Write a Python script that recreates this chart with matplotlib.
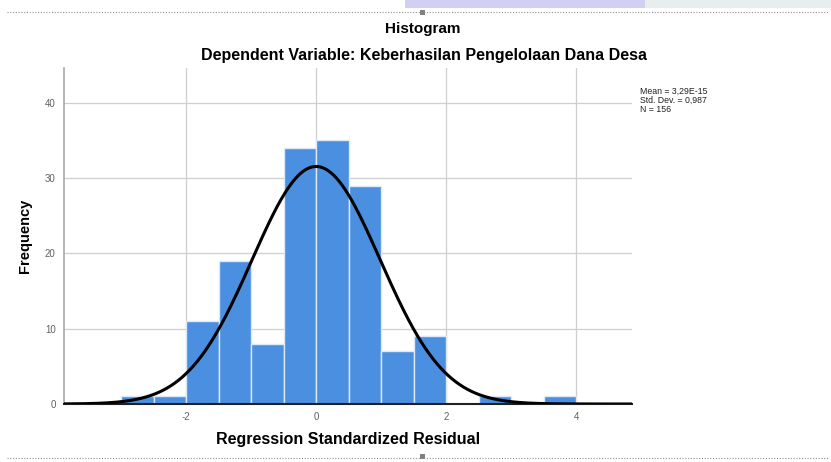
import numpy as np
import matplotlib
matplotlib.use("Agg")
import matplotlib.pyplot as plt
from matplotlib.lines import Line2D
from matplotlib.patches import Rectangle

# Data
bin_edges = [-3.0, -2.5, -2.0, -1.5, -1.0, -0.5, 0.0, 0.5, 1.0, 1.5, 2.0, 2.5, 3.0, 3.5, 4.0]
counts = [1, 1, 11, 19, 8, 34, 35, 29, 7, 9, 0, 1, 0, 1]
mean_val = 3.29e-15
std_val = 0.987
n_val = 156
x_ticks = [-2, 0, 2, 4]
y_ticks = [0, 10, 20, 30, 40]
stats_text = ["Mean = 3,29E-15", "Std. Dev. = 0,987", "N = 156"]

plt.rcParams['font.family'] = ['Liberation Sans', 'DejaVu Sans']
plt.rcParams['axes.unicode_minus'] = False

W, H = 831, 462
fig = plt.figure(figsize=(W / 100, H / 100), dpi=100)
ax = fig.add_axes([0.077, 0.1255, 0.6835, 0.7273])

edges = np.array(bin_edges)
widths = np.diff(edges)
ax.bar(edges[:-1], counts, width=widths, align='edge', color='#4a8fe0',
       edgecolor='#dbe9f8', linewidth=1.0, zorder=2)

xs = np.linspace(-3.9, 4.9, 600)
bw = widths[0]
pdf = n_val * bw / (std_val * np.sqrt(2 * np.pi)) * np.exp(-0.5 * ((xs - mean_val) / std_val) ** 2)
ax.plot(xs, pdf, color='black', linewidth=2.2, zorder=3)

ax.set_xlim(-3.88, 4.86)
ax.set_ylim(0, 44.6)
ax.set_xticks(x_ticks)
ax.set_yticks(y_ticks)
ax.grid(True, color='#cfcfcf', linewidth=0.9, zorder=0)
ax.set_axisbelow(True)
ax.tick_params(axis='both', length=0, labelsize=7, colors='#606060', pad=6)
for s in ['top', 'right']:
    ax.spines[s].set_visible(False)
ax.spines['left'].set_color('#a8a8a8')
ax.spines['left'].set_linewidth(1.2)
ax.spines['bottom'].set_color('#202020')
ax.spines['bottom'].set_linewidth(1.5)

ax.set_xlabel('Regression Standardized Residual', fontsize=11.5, fontweight='bold', labelpad=7)
ax.set_ylabel('Frequency', fontsize=10.5, fontweight='bold', labelpad=9)

fig.text(0.509, 0.938, 'Histogram', ha='center', va='center', fontsize=11, fontweight='bold')
fig.text(0.510, 0.880, 'Dependent Variable: Keberhasilan Pengelolaan Dana Desa', ha='center', va='center',
         fontsize=11.5, fontweight='bold')

fig.text(0.770, 0.812, "\n".join(stats_text), ha='left', va='top', fontsize=6.3, linespacing=1.0,
         color='#222222')

# background fragments at top
fig.add_artist(Rectangle((405 / W, 1 - 8 / H), 240 / W, 8 / H, transform=fig.transFigure,
                         facecolor='#d2d0f2', edgecolor='none'))
fig.add_artist(Rectangle((645 / W, 1 - 8 / H), 186 / W, 8 / H, transform=fig.transFigure,
                         facecolor='#e6eef0', edgecolor='none'))

# dotted frame lines
fig.add_artist(Line2D([0.008, 0.998], [1 - 12 / H, 1 - 12 / H], transform=fig.transFigure, color='#909090',
                      linestyle=(0, (1, 1.5)), linewidth=0.8))
fig.add_artist(Line2D([0.008, 0.998], [4 / H, 4 / H], transform=fig.transFigure, color='#909090',
                      linestyle=(0, (1, 1.5)), linewidth=0.8))
fig.add_artist(Rectangle((420 / W, 1 - 15 / H), 5 / W, 5 / H, transform=fig.transFigure,
                         facecolor='#808080', edgecolor='none'))
fig.add_artist(Rectangle((420 / W, 3 / H), 5 / W, 5 / H, transform=fig.transFigure,
                         facecolor='#808080', edgecolor='none'))

fig.savefig('out.png', dpi=100)
